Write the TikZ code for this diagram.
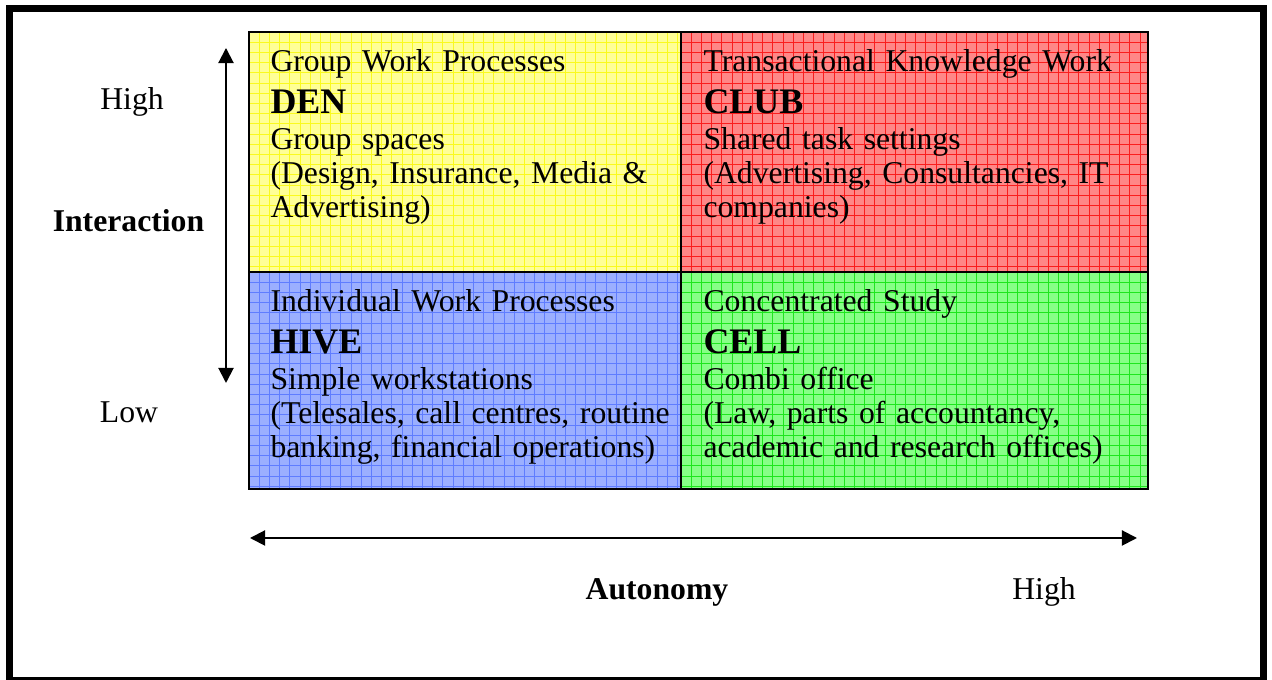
\documentclass[tikz,border=0pt]{standalone}
\usepackage{fontspec}
\setmainfont{Liberation Serif}
\usetikzlibrary{arrows.meta}

\definecolor{denfill}{RGB}{255,255,150}
\definecolor{denline}{RGB}{250,250,30}
\definecolor{clubfill}{RGB}{255,135,135}
\definecolor{clubline}{RGB}{250,30,30}
\definecolor{hivefill}{RGB}{155,175,255}
\definecolor{hiveline}{RGB}{95,125,255}
\definecolor{cellfill}{RGB}{135,255,135}
\definecolor{cellline}{RGB}{30,230,30}

\newcommand{\namefont}{\fontsize{13.6}{14}\selectfont\bfseries}

\tikzset{
  quadtext/.style={anchor=base west, inner sep=0pt, text width=170pt, align=left,
    font=\fontsize{12}{12.7}\selectfont},
  axislabel/.style={anchor=base, inner sep=0pt, font=\fontsize{12}{14}\selectfont},
  axisname/.style={axislabel, font=\fontsize{12}{14}\selectfont\bfseries},
  axis/.style={line width=0.75pt,
    {Triangle[length=5.7pt,width=5.7pt]}-{Triangle[length=5.7pt,width=5.7pt]}},
  quadgrid/.style={line width=0.3pt, step=3.86pt},
}

\begin{document}
\begin{tikzpicture}[x=0.3785pt, y=-0.3785pt]
    \useasboundingbox (0,0) rectangle (1272,680);
    % outer frame
    \draw[line width=2.8pt] (9.5,8.5) rectangle (1263.5,681);

    % quadrants
    \fill[denfill] (249,32) rectangle (681,272);
    \fill[clubfill] (681,32) rectangle (1148,272);
    \fill[hivefill] (249,272) rectangle (681,489);
    \fill[cellfill] (681,272) rectangle (1148,489);
    \draw[quadgrid, denline, shift={(249,32)}] (0,0) grid (432,240);
    \draw[quadgrid, clubline, shift={(681,32)}] (0,0) grid (467,240);
    \draw[quadgrid, hiveline, shift={(249,272)}] (0,0) grid (432,217);
    \draw[quadgrid, cellline, shift={(681,272)}] (0,0) grid (467,217);
    \draw[line width=0.6pt] (249,32) rectangle (1148,489);
    \draw[line width=1.1pt] (681,32) -- (681,489);
    \draw[line width=1.1pt] (249,272) -- (1148,272);

    \node[quadtext] (den) at (270,72) {Group Work Processes\\[3.2pt]{\namefont DEN}\\[0.9pt]Group spaces\\(Design, Insurance, Media \&\\Advertising)};
    \node[quadtext] (club) at (703,72) {Transactional Knowledge Work\\[3.2pt]{\namefont CLUB}\\[0.9pt]Shared task settings\\(Advertising, Consultancies, IT\\companies)};
    \node[quadtext] (hive) at (270,312) {Individual Work Processes\\[3.2pt]{\namefont HIVE}\\[0.9pt]Simple workstations\\(Telesales, call centres, routine\\banking, financial operations)};
    \node[quadtext] (cell) at (703,312) {Concentrated Study\\[3.2pt]{\namefont CELL}\\[0.9pt]Combi office\\(Law, parts of accountancy,\\academic and research offices)};

    % axes
    \coordinate (itop) at (226,48);
    \coordinate (ibot) at (226,383);
    \coordinate (aleft) at (250,538);
    \coordinate (aright) at (1137,538);
    \draw[axis] (ibot) -- (itop);
    \draw[axis] (aleft) -- (aright);

    \node[axislabel] (high) at (132,110) {High};
    \node[axisname] (interaction) at (128.5,232) {Interaction};
    \node[axislabel] (low) at (129,423) {Low};
    \node[axisname] (autonomy) at (657,600) {Autonomy};
    \node[axislabel] (highx) at (1044,600) {High};
\end{tikzpicture}
\end{document}
